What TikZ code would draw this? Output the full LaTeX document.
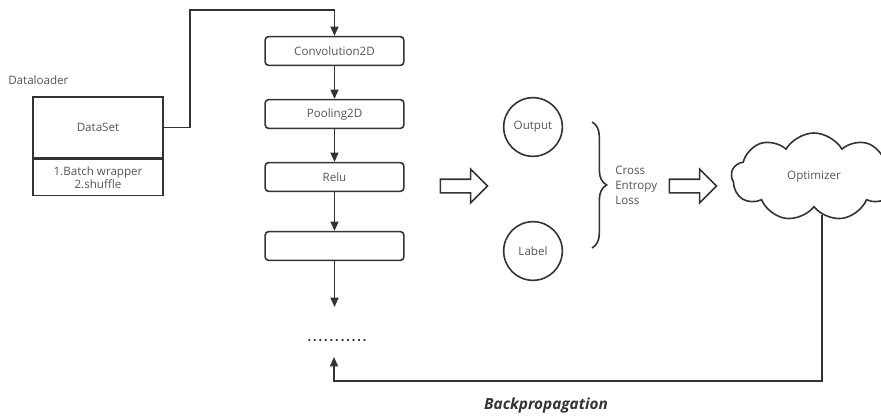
\documentclass[tikz,border=0pt]{standalone}
\usepackage{fontspec}
\setmainfont{Open Sans}
\newfontfamily\dotfont{DejaVu Sans}[LetterSpace=14]
\usetikzlibrary{arrows.meta, positioning, shapes.symbols, shapes.arrows, decorations.pathreplacing}
\definecolor{linegray}{RGB}{51,51,51}
\definecolor{textgray}{RGB}{85,85,85}

\begin{document}
\begin{tikzpicture}[
        x=0.75pt, y=-0.75pt,
        font=\fontsize{8.7}{10}\selectfont, text=textgray,
        layer/.style={rectangle, draw=linegray, line width=1.2pt, rounded corners=2.5pt, minimum width=104pt, minimum height=21.5pt, inner sep=0pt},
        databox/.style={rectangle, draw=linegray, line width=1.2pt, minimum width=97.5pt, inner sep=0pt, align=center},
        blob/.style={circle, draw=linegray, line width=1.2pt, minimum size=44pt, inner sep=0pt},
        fatarrow/.style={single arrow, draw=linegray, line width=1.2pt, inner xsep=0pt, inner ysep=4.5pt, single arrow head extend=7.5pt, minimum height=35.25pt},
        flow/.style={draw=linegray, line width=1.2pt, -{Triangle[length=7pt, width=6pt]}},
        line/.style={draw=linegray, line width=1.2pt}
        ]
        \useasboundingbox (0,0) rectangle (881,418);

        % Dataloader
        \node (loader) [anchor=west, inner sep=0pt] at (8,80) {Dataloader};
        \node (dataset) [databox, minimum height=45.75pt] at (98,127.5) {DataSet};
        \node (wrapper) [databox, minimum height=27pt, below=0pt of dataset] {1.Batch wrapper\\2.shuffle};

        % Network layers
        \node (conv) [layer] at (334.5,51) {Convolution2D};
        \node (pool) [layer] at (334.5,114) {Pooling2D};
        \node (relu) [layer] at (334.5,177) {Relu};
        \node (empty) [layer] at (334.5,246) {};
        \coordinate (next) at (334.5,307);
        \node (dots) [inner sep=0pt, text=linegray] at (337,340) {\dotfont\bfseries\fontsize{8}{9}\selectfont ...........};

        % Loss
        \node (arrow1) [fatarrow] at (460.5,186) {};
        \node (output) [blob] at (533,127) {Output};
        \node (label) [blob] at (533,251) {Label};
        \coordinate (braceTop) at (592,122);
        \coordinate (braceBot) at (592,248);
        \draw [line, decorate, decoration={brace, amplitude=11pt}] (braceTop) -- (braceBot);
        \node (loss) [anchor=west, align=left, inner sep=0pt, font=\fontsize{8.7}{11.25}\selectfont] at (615,185) {Cross\\Entropy\\Loss};
        \node (arrow2) [fatarrow] at (689.5,186) {};
        \node (optimizer) [cloud, draw=linegray, line width=1.2pt, cloud puffs=9, cloud puff arc=120, minimum width=124pt, minimum height=66pt, inner sep=0pt] at (814,177) {Optimizer};

        % Arrows
        \coordinate (bend) at (190,10);
        \draw [flow] (dataset.east) -| (bend) -| (conv.north);
        \draw [flow] (conv) -- (pool);
        \draw [flow] (pool) -- (relu);
        \draw [flow] (relu) -- (empty);
        \draw [flow] (empty) -- (next);

        % Backpropagation
        \coordinate (lowcorner) at (334,381);
        \coordinate (backend) at (334,357);
        \draw [flow] (optimizer.-78) |- (lowcorner) -- (backend);
        \node (backprop) [font=\fontsize{11.5}{14}\selectfont\bfseries\itshape, text=linegray] at (546,406) {Backpropagation};

    \end{tikzpicture}
\end{document}
